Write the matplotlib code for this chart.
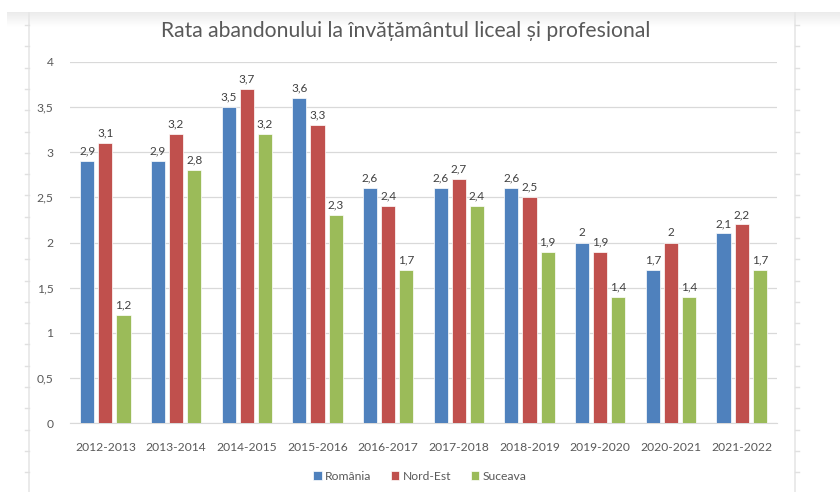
import numpy as np
import matplotlib
matplotlib.use("Agg")
import matplotlib.pyplot as plt

plt.rcParams['font.family'] = ['Lato', 'DejaVu Sans']

years = ["2012-2013", "2013-2014", "2014-2015", "2015-2016", "2016-2017",
         "2017-2018", "2018-2019", "2019-2020", "2020-2021", "2021-2022"]
romania = [2.9, 2.9, 3.5, 3.6, 2.6, 2.6, 2.6, 2.0, 1.7, 2.1]
nord_est = [3.1, 3.2, 3.7, 3.3, 2.4, 2.7, 2.5, 1.9, 2.0, 2.2]
suceava = [1.2, 2.8, 3.2, 2.3, 1.7, 2.4, 1.9, 1.4, 1.4, 1.7]

series = [("România", romania, "#4F81BD"),
          ("Nord-Est", nord_est, "#C0504D"),
          ("Suceava", suceava, "#9BBB59")]

W, H = 840, 492
fig = plt.figure(figsize=(W / 100, H / 100), dpi=100)

# sheet background: shadow band on top and the two side rulers
bg = fig.add_axes([0, 0, 1, 1], zorder=-5)
bg.set_xlim(0, W)
bg.set_ylim(H, 0)
bg.axis("off")
grad = np.linspace(0.92, 1.0, 50).reshape(-1, 1)
bg.imshow(grad, cmap="gray", vmin=0, vmax=1, aspect="auto",
          extent=(7, W, 27, 12), interpolation="bilinear")
for xr, dx in [(29, -4), (795, 4)]:
    bg.plot([xr, xr], [13, H], color="#e6e6e6", lw=1.2)
    for yt in np.arange(25, H, 21.3):
        bg.plot([xr, xr + dx], [yt, yt], color="#e0e0e0", lw=1)

ax = fig.add_axes([70 / W, 1 - 423 / H, 707 / W, 361 / H])
x = np.arange(len(years))
bw = 0.2
step = 0.257
for i, (name, vals, col) in enumerate(series):
    pos = x + (i - 1) * step
    ax.bar(pos, vals, width=bw, color=col, edgecolor="white",
           linewidth=0.5, label=name, zorder=3)
    for p, v in zip(pos, vals):
        ax.text(p, v + 0.05, f"{v:g}".replace(".", ","), ha="center",
                va="bottom", fontsize=8.5, color="#404040")

ax.set_xlim(-0.5, len(years) - 0.5)
ax.set_ylim(0, 4)
yt = np.arange(0, 4.01, 0.5)
ax.set_yticks(yt)
ax.set_yticklabels([f"{t:g}".replace(".", ",") for t in yt])
ax.set_xticks(x)
ax.set_xticklabels(years)
ax.tick_params(axis="both", length=0, labelsize=8.7, labelcolor="#595959")
ax.tick_params(axis="y", pad=12)
ax.tick_params(axis="x", pad=14)
ax.grid(axis="y", color="#d9d9d9", lw=0.9, zorder=0)
for s in ["top", "left", "right"]:
    ax.spines[s].set_visible(False)
ax.spines["bottom"].set_color("#d9d9d9")

fig.text(406 / W, 1 - 31 / H, "Rata abandonului la învățământul liceal și profesional",
         ha="center", va="center", fontsize=15.2, color="#595959")

fig.legend(loc="center", bbox_to_anchor=(420 / W, 1 - 476 / H), ncol=3,
           frameon=False, fontsize=8.7, labelcolor="#595959",
           handlelength=0.7, handleheight=0.7, handletextpad=0.3,
           columnspacing=1.6)

fig.savefig("out.png", dpi=100)
